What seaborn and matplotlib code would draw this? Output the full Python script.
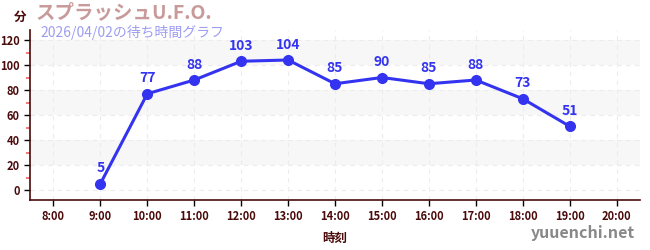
import matplotlib
matplotlib.use("Agg")
import matplotlib.pyplot as plt
import seaborn as sns
import pandas as pd
from matplotlib.ticker import MultipleLocator

hours = [9, 10, 11, 12, 13, 14, 15, 16, 17, 18, 19]
waits = [5, 77, 88, 103, 104, 85, 90, 85, 88, 73, 51]
tick_hours = list(range(8, 21))
tick_labels = [f"{h}:00" for h in tick_hours]
title = "スプラッシュU.F.O."
subtitle = "2026/04/02の待ち時間グラフ"

sns.set_style("white")
plt.rcParams['font.family'] = ['Noto Sans CJK JP', 'DejaVu Sans']

df = pd.DataFrame({"hour": hours, "wait": waits})

fig = plt.figure(figsize=(6.5, 2.5), dpi=100)
ax = fig.add_axes([30/650, 1-200/250, 610/650, 170/250])

dark = "#4a0a0a"
blue = "#3434f0"

for lo in (20, 60, 100):
    ax.axhspan(lo, lo + 20, color="#f7f7f7", zorder=0, lw=0)

sns.lineplot(data=df, x="hour", y="wait", ax=ax, color=blue, lw=2.2,
             marker="o", markersize=8, markeredgewidth=0, zorder=3)
for h, w in zip(hours, waits):
    ax.annotate(str(w), (h, w), xytext=(0, 6), textcoords="offset points",
                ha="center", va="bottom", color=blue, fontsize=10, fontweight="bold")

ax.set_xlim(7.5, 20.5)
ax.set_ylim(-8, 128)
ax.set_xticks(tick_hours)
ax.set_xticklabels(tick_labels)
ax.set_yticks([0, 20, 40, 60, 80, 100, 120])
ax.yaxis.set_minor_locator(MultipleLocator(10))
ax.grid(True, which="major", ls=(0, (4, 4)), color="#ececec", lw=0.8)
ax.tick_params(axis="both", which="major", length=4, width=1, color="black",
               labelcolor=dark, labelsize=8)
ax.tick_params(axis="y", which="minor", length=3, width=1.2, color="#f06060", left=True)
ax.tick_params(axis="x", bottom=True)
ax.tick_params(axis="y", left=True)
for lab in ax.get_xticklabels() + ax.get_yticklabels():
    lab.set_fontweight("bold")
for s in ("top", "right"):
    ax.spines[s].set_visible(False)
for s in ("left", "bottom"):
    ax.spines[s].set_color(dark)
    ax.spines[s].set_linewidth(1.2)
ax.set_xlabel("時刻", color=dark, fontsize=9, fontweight="bold", labelpad=6)
ax.set_ylabel("")

fig.text(14/650, 1-17/250, "分", color=dark, fontsize=9, fontweight="bold", va="center")
fig.text(36/650, 1-13/250, title, color="#c99a9a", fontsize=14, fontweight="bold", va="center")
fig.text(40/650, 1-32/250, subtitle, color="#9d9df0", fontsize=10, va="center")
fig.text(635/650, 1-233/250, "yuuenchi.net", color="#888888", fontsize=11.5,
         fontweight="bold", ha="right", va="center")

fig.savefig("out.png", dpi=100)
